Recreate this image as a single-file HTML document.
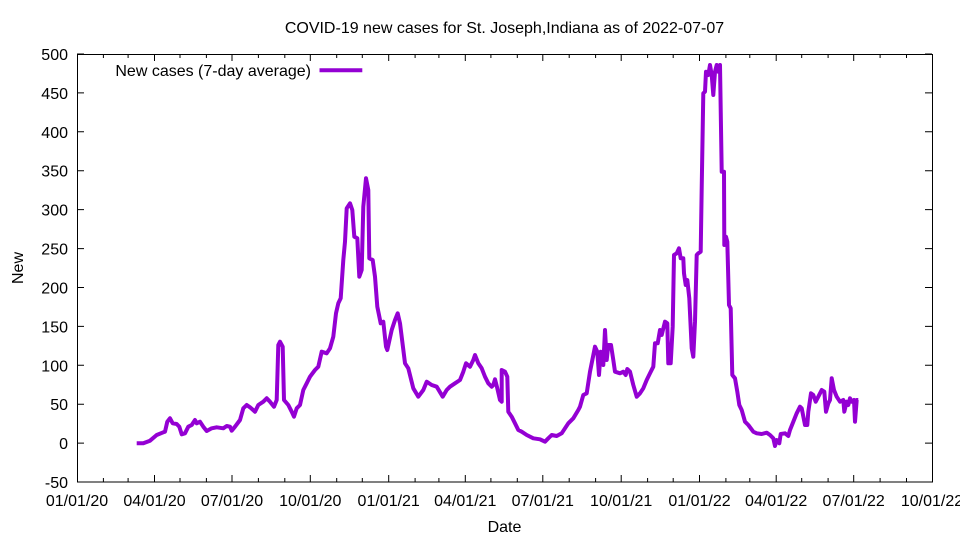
<!DOCTYPE html>
<html><head><meta charset="utf-8"><style>
html,body{margin:0;padding:0;background:#fff;}
svg{display:block;}
text{font-family:"Liberation Sans",Arial,sans-serif;font-size:16px;fill:#000;}
</style></head><body>
<svg width="960" height="540" viewBox="0 0 960 540" xmlns="http://www.w3.org/2000/svg">
<rect width="960" height="540" fill="#fff"/>
<text x="504.5" y="33" text-anchor="middle">COVID-19 new cases for St. Joseph,Indiana as of 2022-07-07</text>
<g stroke="#000" stroke-width="1" fill="none">
<rect x="77.5" y="54.5" width="855" height="427.5"/>
<!-- y ticks -->
<path d="M77 54h7M932 54h-7M77 92.9h7M932 92.9h-7M77 131.8h7M932 131.8h-7M77 170.7h7M932 170.7h-7M77 209.6h7M932 209.6h-7M77 248.6h7M932 248.6h-7M77 287.5h7M932 287.5h-7M77 326.4h7M932 326.4h-7M77 365.3h7M932 365.3h-7M77 404.2h7M932 404.2h-7M77 443.1h7M932 443.1h-7"/>
<!-- x major ticks -->
<path d="M154.5 482v-7M154.5 54v7M232 482v-7M232 54v7M310.3 482v-7M310.3 54v7M388.7 482v-7M388.7 54v7M465.3 482v-7M465.3 54v7M542.8 482v-7M542.8 54v7M621.2 482v-7M621.2 54v7M699.5 482v-7M699.5 54v7M776.2 482v-7M776.2 54v7M853.7 482v-7M853.7 54v7"/>
<!-- x minor ticks -->
<path d="M103.4 482v-4M103.4 54v4M128.1 482v-4M128.1 54v4M180 482v-4M180 54v4M206.4 482v-4M206.4 54v4M258.4 482v-4M258.4 54v4M284.8 482v-4M284.8 54v4M336.7 482v-4M336.7 54v4M362.3 482v-4M362.3 54v4M415.1 482v-4M415.1 54v4M438.9 482v-4M438.9 54v4M490.9 482v-4M490.9 54v4M517.3 482v-4M517.3 54v4M569.2 482v-4M569.2 54v4M595.6 482v-4M595.6 54v4M647.6 482v-4M647.6 54v4M673.2 482v-4M673.2 54v4M725.9 482v-4M725.9 54v4M749.8 482v-4M749.8 54v4M801.7 482v-4M801.7 54v4M828.1 482v-4M828.1 54v4M880.1 482v-4M880.1 54v4M906.5 482v-4M906.5 54v4"/>
</g>
<g text-anchor="end">
<text x="68" y="60">500</text>
<text x="68" y="98.9">450</text>
<text x="68" y="137.8">400</text>
<text x="68" y="176.7">350</text>
<text x="68" y="215.6">300</text>
<text x="68" y="254.6">250</text>
<text x="68" y="293.5">200</text>
<text x="68" y="332.4">150</text>
<text x="68" y="371.3">100</text>
<text x="68" y="410.2">50</text>
<text x="68" y="449.1">0</text>
<text x="68" y="488">-50</text>
</g>
<g text-anchor="middle">
<text x="77" y="506">01/01/20</text>
<text x="154.5" y="506">04/01/20</text>
<text x="232" y="506">07/01/20</text>
<text x="310.3" y="506">10/01/20</text>
<text x="388.7" y="506">01/01/21</text>
<text x="465.3" y="506">04/01/21</text>
<text x="542.8" y="506">07/01/21</text>
<text x="621.2" y="506">10/01/21</text>
<text x="699.5" y="506">01/01/22</text>
<text x="776.2" y="506">04/01/22</text>
<text x="853.7" y="506">07/01/22</text>
<text x="932" y="506">10/01/22</text>
<text x="504.5" y="532">Date</text>
<text transform="translate(23,268) rotate(-90)">New</text>
</g>
<text x="311" y="76" text-anchor="end">New cases (7-day average)</text>
<line x1="319.5" y1="70.3" x2="362.3" y2="70.3" stroke="#9400d3" stroke-width="4"/>
<polyline fill="none" stroke="#9400d3" stroke-width="4" stroke-linejoin="round" points="136.7,443.3 143.3,443.3 150,440.7 156.7,435 163.3,432.3 165,431.7 167.3,421.7 170,418.3 172.7,423.3 176.7,424 179.3,426.7 181.7,434.3 185,433.3 188.3,426.7 191.7,425 195,420 196.7,423.3 200,421.7 203.3,426.7 206.7,431 211.7,428.3 216.7,427.3 223.3,428.3 226.7,426 230,426.7 231.7,430.7 235,426.7 240,420 243.3,408.3 246.7,405 250,407.3 255,411.7 258.3,405 263.3,401.7 266.7,398.3 270,401.7 274,406.7 276.7,400 278.3,345 280,341.7 282.7,346.7 284,400 288.3,405 291.7,411.7 294,416.7 296.7,408.3 300,405 303.3,390 306.7,383.3 310,376.7 315,370 318.3,366.7 321.7,351.7 326.7,353.3 330,348.3 333.3,336.7 336,313.3 338.3,303.3 340.7,298.3 343.3,260 345,241.7 346.7,208.3 350,203.3 352.3,210 354.3,236.7 357.3,238.3 359.3,276.7 361.7,270 363.3,206.7 366,178.3 368.3,190 369.3,258.3 372.7,260 375,276.7 377.3,306.7 380.7,323.3 383.3,321.7 386,346.7 387.3,350 391.7,330 395,320 397.7,313.3 400,323.3 405,363.3 408.3,368.3 413.3,388.3 418.3,396.7 423.3,390 426.7,381.7 431.7,385 436.7,386.7 442.7,396.7 446.7,390 450,386.7 455,383.3 460,380 463.3,371.7 466,363.3 470,366.7 473.3,360 475,355 478.3,363.3 481.7,368.3 485,376.7 488.3,383.3 491.7,386.7 493.3,385 495,379.3 497.3,388.3 500,400 501.7,401.7 501.7,370 505,371.7 507.3,376.7 508.3,411.7 511.7,416.7 515,423.3 518.3,430 521.7,431.7 526.7,435 533.3,438.3 540,439.3 545,441.7 548.3,438.3 551.7,435 556.7,436 561.7,433.3 565,428.3 568.3,423.3 573.3,418.3 578.3,410 580,406.7 583.3,395 586.7,393.3 590,371.7 595,346.7 597.3,351.7 599,375 600.7,351.7 603.3,365 605,330 606.7,360 608.3,345 611,345 613.3,360 615,371.7 620,373.3 623.3,371.7 625.7,375 627.3,369 630,371.7 633.3,385 636.7,396.7 640,393.3 643.3,388.3 646.7,380 650,373.3 653.3,366.7 655,343.3 657.7,343.3 660,330 661.7,335 665,321.7 667.3,323.3 668.3,363.3 670.7,363.3 672.7,326.7 674,255 676.7,253.3 679,248.3 680.7,258.3 683.3,258.3 684,273.3 685.7,285 687.3,280 689.3,298.3 691.7,348.3 693.3,356.7 695,321.7 696.7,255 698.3,253.3 700.7,251.7 701.7,188.3 703.3,93.3 705,91.7 706,71.7 708.3,75 710,65 711.7,75 713.3,95 715,71.7 716.7,65 718.3,71.7 720,65 721.7,171.7 724,171.7 724.3,245 726,236.7 727.3,241.7 729,305 730.7,308.3 732.3,375 735,378.3 737.3,391.7 739.3,405 741.7,410 745,421.7 748.3,425 753.3,431.7 756.7,433.3 761.7,434 766.7,432.7 770,435 773.3,438.3 775,446 776.7,440 779.3,443.3 780.7,434 785,433.3 788.3,436 790,430 793.3,421.7 796.7,413.3 800,406.7 801.7,408.3 805,425 807.3,425 808.3,411.7 811,393.3 813.3,395 815.7,401.7 818.3,396.7 821.7,390 824.3,391.7 826,411.7 828.3,403.3 830,400 831.7,378.3 834,390 836.7,396.7 840,401.7 843.3,400 844.3,411.7 846.7,401.7 848.3,405 850,398.3 851.7,401.7 854,400 855,421.7 856.7,400 858.3,400"/>
</svg>
</body></html>
